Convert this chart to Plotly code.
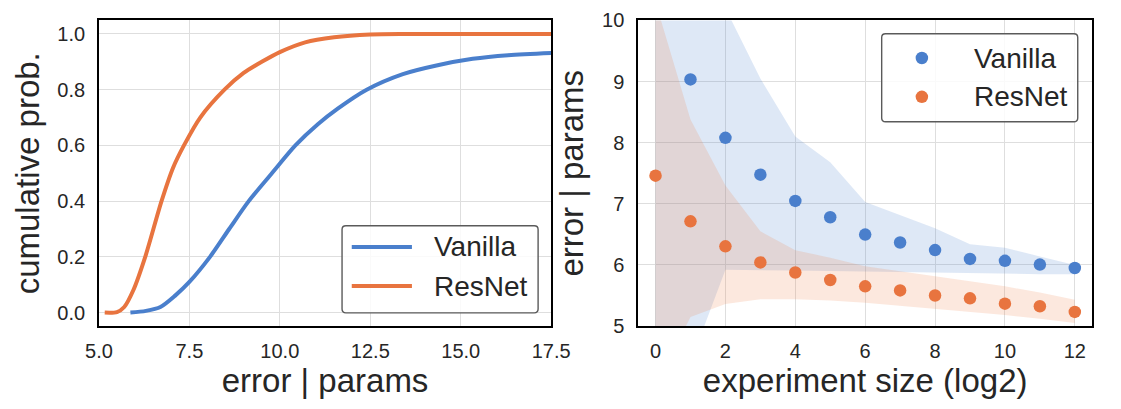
import plotly.graph_objects as go

W, H = 1121, 409

# ---------------- left panel data (ECDF of error | params) ----------------
vanilla_err = [5.87, 6.3, 6.7, 7.1, 7.5, 8.07, 8.6, 9.14, 9.78, 10.43, 11.05, 11.6,
               12.4, 13.4, 14.36, 15.33, 16.31, 17.5]
vanilla_cdf = [0.0, 0.006, 0.02, 0.06, 0.11, 0.2, 0.3, 0.4, 0.5, 0.6, 0.676, 0.732,
               0.8, 0.856, 0.888, 0.911, 0.924, 0.932]
resnet_err = [5.16, 5.5, 5.7, 5.95, 6.28, 6.73, 7.05, 7.35, 7.8, 8.47, 9.0, 9.5,
              10.0, 10.7, 11.5, 12.5, 13.5, 17.5]
resnet_cdf = [0.0, 0.002, 0.02, 0.08, 0.2, 0.4, 0.52, 0.6, 0.7, 0.8, 0.86, 0.9,
              0.935, 0.97, 0.988, 0.998, 1.0, 1.0]

# ---------------- right panel data (error vs experiment size) ----------------
size_log2 = list(range(13))
vanilla_size = size_log2[1:]
vanilla_mean = [9.035, 8.08, 7.477, 7.048, 6.78, 6.497, 6.367, 6.243, 6.099, 6.068, 6.006, 5.95]
resnet_mean = [7.461, 6.714, 6.305, 6.042, 5.876, 5.754, 5.650, 5.583, 5.50, 5.454, 5.367, 5.325, 5.232]
vanilla_lo = [3.0, 4.4, 5.92, 5.92, 5.91, 5.90, 5.89, 5.88, 5.87, 5.86, 5.86, 5.85, 5.85]
vanilla_hi = [14.0, 12.0, 10.2, 9.05, 8.1, 7.68, 7.03, 6.81, 6.60, 6.34, 6.28, 6.14, 6.0]
resnet_lo = [4.0, 5.15, 5.36, 5.44, 5.44, 5.42, 5.38, 5.33, 5.29, 5.24, 5.18, 5.12, 5.05]
resnet_hi = [10.3, 8.38, 7.30, 6.55, 6.24, 6.12, 5.98, 5.90, 5.82, 5.74, 5.65, 5.55, 5.43]

series_names = ["Vanilla", "ResNet"]
BLUE = "#4a7fcc"
ORANGE = "#e8743f"
BLUE_BAND = "rgba(74,127,204,0.18)"
ORANGE_BAND = "rgba(238,128,70,0.18)"
TEXT = "#262626"
FONT = "Liberation Sans, Arial, sans-serif"

fig = go.Figure()

fig.add_trace(go.Scatter(x=vanilla_err, y=vanilla_cdf, mode="lines", name=series_names[0],
                         line=dict(color=BLUE, width=4, shape="spline", smoothing=0.8),
                         xaxis="x", yaxis="y", showlegend=False))
fig.add_trace(go.Scatter(x=resnet_err, y=resnet_cdf, mode="lines", name=series_names[1],
                         line=dict(color=ORANGE, width=4, shape="spline", smoothing=0.8),
                         xaxis="x", yaxis="y", showlegend=False))

fig.add_trace(go.Scatter(x=size_log2, y=vanilla_lo, mode="lines", line=dict(width=0),
                         xaxis="x2", yaxis="y2", showlegend=False, hoverinfo="skip"))
fig.add_trace(go.Scatter(x=size_log2, y=vanilla_hi, mode="lines", line=dict(width=0),
                         fill="tonexty", fillcolor=BLUE_BAND,
                         xaxis="x2", yaxis="y2", showlegend=False, hoverinfo="skip"))
fig.add_trace(go.Scatter(x=size_log2, y=resnet_lo, mode="lines", line=dict(width=0),
                         xaxis="x2", yaxis="y2", showlegend=False, hoverinfo="skip"))
fig.add_trace(go.Scatter(x=size_log2, y=resnet_hi, mode="lines", line=dict(width=0),
                         fill="tonexty", fillcolor=ORANGE_BAND,
                         xaxis="x2", yaxis="y2", showlegend=False, hoverinfo="skip"))
fig.add_trace(go.Scatter(x=vanilla_size, y=vanilla_mean, mode="markers", name=series_names[0],
                         marker=dict(color=BLUE, size=12.5, line=dict(width=0)),
                         xaxis="x2", yaxis="y2", showlegend=False, cliponaxis=False))
fig.add_trace(go.Scatter(x=size_log2, y=resnet_mean, mode="markers", name=series_names[1],
                         marker=dict(color=ORANGE, size=12.5, line=dict(width=0)),
                         xaxis="x2", yaxis="y2", showlegend=False, cliponaxis=False))

def px(x):
    return x / W

def py(y):
    return 1 - y / H

ax_common = dict(showline=True, mirror=True, linecolor="black", linewidth=1.6,
                 showgrid=True, gridcolor="#dedede", gridwidth=1.2, zeroline=False,
                 ticks="", ticklabeloverflow="allow",
                 tickfont=dict(size=20, color=TEXT, family=FONT))

fig.update_layout(
    width=W, height=H,
    margin=dict(l=0, r=0, t=0, b=0),
    paper_bgcolor="white", plot_bgcolor="white",
    font=dict(family=FONT, color=TEXT),
    xaxis=dict(domain=[px(87.5), px(553.5)], range=[5, 17.5], tickvals=[5, 7.5, 10, 12.5, 15, 17.5],
               tickformat=".1f", anchor="y", ticklabelstandoff=6,
               title=dict(text="error | params", font=dict(size=33, color=TEXT), standoff=8), **ax_common),
    yaxis=dict(domain=[py(333), py(10)], range=[-0.0485, 1.0485], tickvals=[0, 0.2, 0.4, 0.6, 0.8, 1.0],
               tickformat=".1f", anchor="x", ticklabelstandoff=8,
               title=dict(text="cumulative prob.", font=dict(size=33, color=TEXT), standoff=8), **ax_common),
    xaxis2=dict(domain=[px(643), px(1111)], range=[-0.5, 12.5], tickvals=[0, 2, 4, 6, 8, 10, 12],
                anchor="y2", ticklabelstandoff=6,
                title=dict(text="experiment size (log2)", font=dict(size=33, color=TEXT), standoff=8), **ax_common),
    yaxis2=dict(domain=[py(333), py(10)], range=[5, 10], tickvals=[5, 6, 7, 8, 9, 10],
                anchor="x2", ticklabelstandoff=8,
                title=dict(text="error | params", font=dict(size=33, color=TEXT), standoff=8), **ax_common),
)

def rounded_box(x0, y0, x1, y1, r=4):
    rx, ry = r / W, r / H
    X0, X1 = px(x0), px(x1)
    Y0, Y1 = py(y1), py(y0)
    return (f"M{X0+rx},{Y0} L{X1-rx},{Y0} Q{X1},{Y0} {X1},{Y0+ry} "
            f"L{X1},{Y1-ry} Q{X1},{Y1} {X1-rx},{Y1} L{X0+rx},{Y1} Q{X0},{Y1} {X0},{Y1-ry} "
            f"L{X0},{Y0+ry} Q{X0},{Y0} {X0+rx},{Y0} Z")

shapes = []
annotations = []
# left legend
shapes.append(dict(type="path", xref="paper", yref="paper", path=rounded_box(338, 227, 540, 319),
                   fillcolor="rgba(255,255,255,0.85)", line=dict(color="#5a5a5a", width=1.4), layer="above"))
for name, col, yy in [(series_names[0], BLUE, 249.3), (series_names[1], ORANGE, 290.7)]:
    shapes.append(dict(type="line", xref="paper", yref="paper", x0=px(348), x1=px(410), y0=py(yy), y1=py(yy),
                       line=dict(color=col, width=4), layer="above"))
    annotations.append(dict(text=name, xref="paper", yref="paper", x=px(431), y=py(yy), xanchor="left",
                            yanchor="middle", showarrow=False, font=dict(size=28, color=TEXT, family=FONT)))
# right legend
shapes.append(dict(type="path", xref="paper", yref="paper", path=rounded_box(894, 24, 1096, 117),
                   fillcolor="rgba(255,255,255,0.85)", line=dict(color="#5a5a5a", width=1.4), layer="above"))
for name, col, yy in [(series_names[0], BLUE, 49.7), (series_names[1], ORANGE, 90.7)]:
    shapes.append(dict(type="circle", xref="paper", yref="paper", xsizemode="pixel", ysizemode="pixel",
                       xanchor=px(935.4), yanchor=py(yy), x0=-6.25, x1=6.25, y0=-6.25, y1=6.25,
                       fillcolor=col, line=dict(width=0), layer="above"))
    annotations.append(dict(text=name, xref="paper", yref="paper", x=px(987), y=py(yy), xanchor="left",
                            yanchor="middle", showarrow=False, font=dict(size=28, color=TEXT, family=FONT)))

fig.update_layout(shapes=shapes, annotations=annotations)
fig.write_html("out.html")
